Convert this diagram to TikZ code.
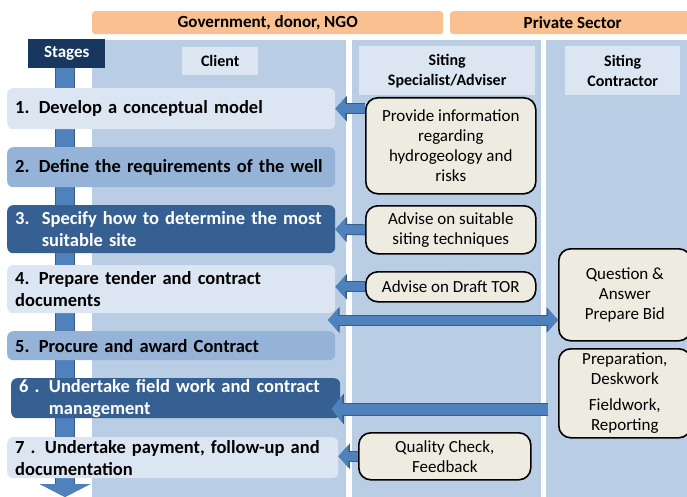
\documentclass[tikz,border=0pt]{standalone}
\usepackage{fontspec}
\setmainfont{Carlito}
\usetikzlibrary{arrows.meta}

\definecolor{lanebg}{HTML}{B9CDE5}
\definecolor{paleblue}{HTML}{DCE6F2}
\definecolor{midblue}{HTML}{95B3D7}
\definecolor{darkblue}{HTML}{376092}
\definecolor{navy}{HTML}{17375E}
\definecolor{headorange}{HTML}{FAC090}
\definecolor{taskfill}{HTML}{EEECE1}
\definecolor{arrowblue}{HTML}{4F81BD}
\definecolor{arrowline}{HTML}{385D8A}

\tikzset{
	head/.style={fill=headorange, rounded corners=3pt, anchor=north west, inner sep=0pt,
		font=\bfseries\fontsize{17}{19}\selectfont},
	lbl/.style={fill=paleblue, anchor=north west, inner sep=0pt, align=center,
		font=\bfseries\fontsize{16}{20}\selectfont},
	stage/.style={rounded corners=6pt, anchor=north west, inner xsep=8pt, inner ysep=0pt,
		align=left, font=\bfseries\fontsize{18.5}{22}\selectfont},
	task/.style={draw=black, line width=1.6pt, fill=taskfill, rounded corners=12pt,
		anchor=north west, inner sep=0pt, align=center, font=\fontsize{17}{20}\selectfont},
	blk/.style={line width=9pt, draw=arrowblue, -{Triangle[width=22pt,length=10pt]},
		preaction={draw=arrowline, line width=11pt, -{Triangle[width=25pt,length=11.5pt]}}},
	dblk/.style={line width=9pt, draw=arrowblue, {Triangle[width=22pt,length=10pt]}-{Triangle[width=22pt,length=10pt]},
		preaction={draw=arrowline, line width=11pt, {Triangle[width=25pt,length=11.5pt]}-{Triangle[width=25pt,length=11.5pt]}}}
}

\begin{document}
\begin{tikzpicture}[x=1pt,y=-1pt]
	\useasboundingbox (0,0) rectangle (687,497);

	% lanes
	\fill[lanebg] (92,40) rectangle (346,497);
	\fill[lanebg] (352,40) rectangle (541,497);
	\fill[lanebg] (546,40) rectangle (687,497);

	\node[head, minimum width=351pt, minimum height=23pt] (gov) at (92,11) {Government, donor, NGO};
	\node[head, minimum width=245pt, minimum height=23pt] (priv) at (450,11) {Private Sector};

	\node[lbl, minimum width=76pt, minimum height=28pt] (client) at (182,47) {Client};
	\node[lbl, minimum width=176pt, minimum height=49pt] (spec) at (359,46) {Siting\\Specialist/Adviser};
	\node[lbl, minimum width=115pt, minimum height=49pt] (contr) at (565,46) {Siting\\Contractor};

	% stages
	\node[fill=navy, text=white, anchor=north west, minimum width=77pt, minimum height=29pt, inner sep=0pt,
		font=\bfseries\fontsize{17}{19}\selectfont] (stages) at (28,39) {Stages};
	\coordinate (end) at (65,497);
	\draw[line width=18pt, draw=arrowblue, -{Triangle[width=50pt,length=13pt]},
		preaction={draw=arrowline, line width=20pt}] (stages.south -| end) -- (end);

	\node[stage, fill=paleblue, text width=312pt, minimum height=41pt] (s1) at (7,88) {1. Develop a conceptual model};
	\node[stage, fill=midblue, text width=312pt, minimum height=40pt] (s2) at (7,147) {2. Define the requirements of the well};
	\node[stage, fill=darkblue, text=white, text width=312pt, minimum height=48pt] (s3) at (7,205)
		{3.~~Specify how to determine the most\\\phantom{3.~~}suitable site};
	\node[stage, fill=paleblue, text width=312pt, minimum height=48pt] (s4) at (7,265) {4. Prepare tender and contract\\documents};
	\node[stage, fill=midblue, text width=312pt, minimum height=29pt] (s5) at (7,331) {5. Procure and award Contract};
	\node[stage, fill=darkblue, text=white, text width=313pt, minimum height=40pt] (s6) at (11,378)
		{6 . Undertake field work and contract\\\phantom{6 . }management};
	\node[stage, fill=paleblue, text width=315pt, minimum height=41pt] (s7) at (7,437)
		{7 . Undertake payment, follow-up and\\documentation};

	% specialist and contractor tasks
	\node[task, minimum width=170pt, minimum height=96pt] (t1) at (365,97)
		{Provide information\\regarding\\hydrogeology and\\risks};
	\node[task, minimum width=170pt, minimum height=48pt] (t3) at (365,205) {Advise on suitable\\siting techniques};
	\node[task, minimum width=170pt, minimum height=30pt] (t4) at (365,271) {Advise on Draft TOR};
	\node[task, minimum width=172pt, minimum height=47pt] (t7) at (358,432) {Quality Check,\\Feedback};
	\node[task, minimum width=132pt, minimum height=92pt] (c4) at (558,248) {Question \&\\Answer\\Prepare Bid};
	\node[task, minimum width=132pt, minimum height=89pt] (c6) at (558,348)
		{Preparation,\\Deskwork\\[6pt]Fieldwork,\\Reporting};

	% flows
	\draw[blk] (s1.east -| t1.west) -- (s1.east);
	\draw[blk] (t3.west) -- (s3.east);
	\draw[blk] (t4.west) -- (t4.west -| s4.east);
	\coordinate (bid) at (328,320);
	\draw[dblk] (bid) -- (bid -| c4.west);
	\coordinate (fw) at (548,409);
	\draw[line width=11pt, draw=arrowblue, -{Triangle[width=27pt,length=11pt]}, shorten >=-9pt,
		preaction={draw=arrowline, line width=13pt, shorten >=-9pt, -{Triangle[width=30pt,length=12.5pt]}}]
		(fw) -- (fw -| s6.east);
	\draw[blk] (t7.west) -- (t7.west -| s7.east);
\end{tikzpicture}
\end{document}
